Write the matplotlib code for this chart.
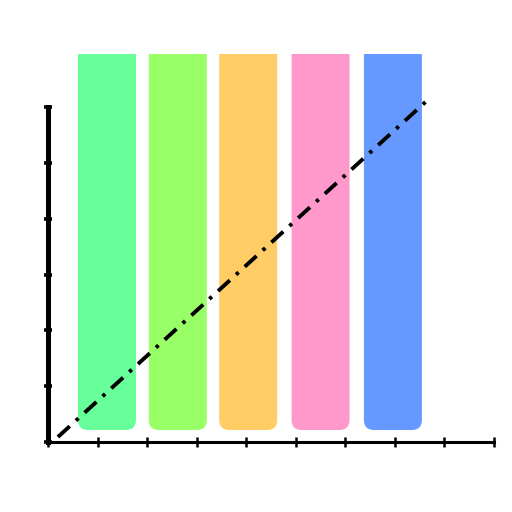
import matplotlib
matplotlib.use("Agg")
import matplotlib.pyplot as plt
from matplotlib.patches import FancyBboxPatch

# barre di sfondo
bar_centers = [1.19, 2.62, 4.04, 5.50, 6.96]
bar_bottom = [0.215, 0.215, 0.215, 0.215, 0.215]
bar_top = [8.0, 8.0, 8.0, 8.0, 8.0]
bar_width = 1.17
bar_colors = ["#66ff99", "#99ff66", "#ffcc66", "#ff99cc", "#6699ff"]

# retta tratto-punto
line_x = [0.2, 7.7]
line_y = [0.09, 6.16]

xticks = list(range(10))
yticks = list(range(7))

plt.rcParams["lines.scale_dashes"] = False

fig = plt.figure(figsize=(5.12, 5.12), dpi=100)
ax = fig.add_axes([48 / 512, 70 / 512, 446 / 512, 387.8 / 512])
ax.set_xlim(0, 9)
ax.set_ylim(0, 6.95)

px_x = 9 / 446
px_y = 6.95 / 387.8
for c, b, t, col in zip(bar_centers, bar_bottom, bar_top, bar_colors):
    p = FancyBboxPatch((c - bar_width / 2, b), bar_width, t - b,
                       boxstyle="round,pad=0,rounding_size=%f" % (10 * px_x),
                       mutation_aspect=px_y / px_x,
                       fc=col, ec="none", zorder=1)
    ax.add_patch(p)

ln, = ax.plot(line_x, line_y, color="black", lw=2.8, zorder=3,
              solid_capstyle="butt", dash_capstyle="butt")
ln.set_dashes([11.5, 6.0, 2.5, 6.0])

for s in ["top", "right"]:
    ax.spines[s].set_visible(False)
ax.spines["left"].set_linewidth(3.6)
ax.spines["left"].set_bounds(0, 6)
ax.spines["bottom"].set_linewidth(2.2)
ax.spines["left"].set_zorder(4)
ax.spines["bottom"].set_zorder(4)

ax.set_xticks(xticks)
ax.set_yticks(yticks)
ax.tick_params(axis="x", direction="inout", length=7, width=1.8, labelbottom=False)
ax.tick_params(axis="y", direction="inout", length=6, width=2.6, labelleft=False)

fig.savefig("out.png", dpi=100)
